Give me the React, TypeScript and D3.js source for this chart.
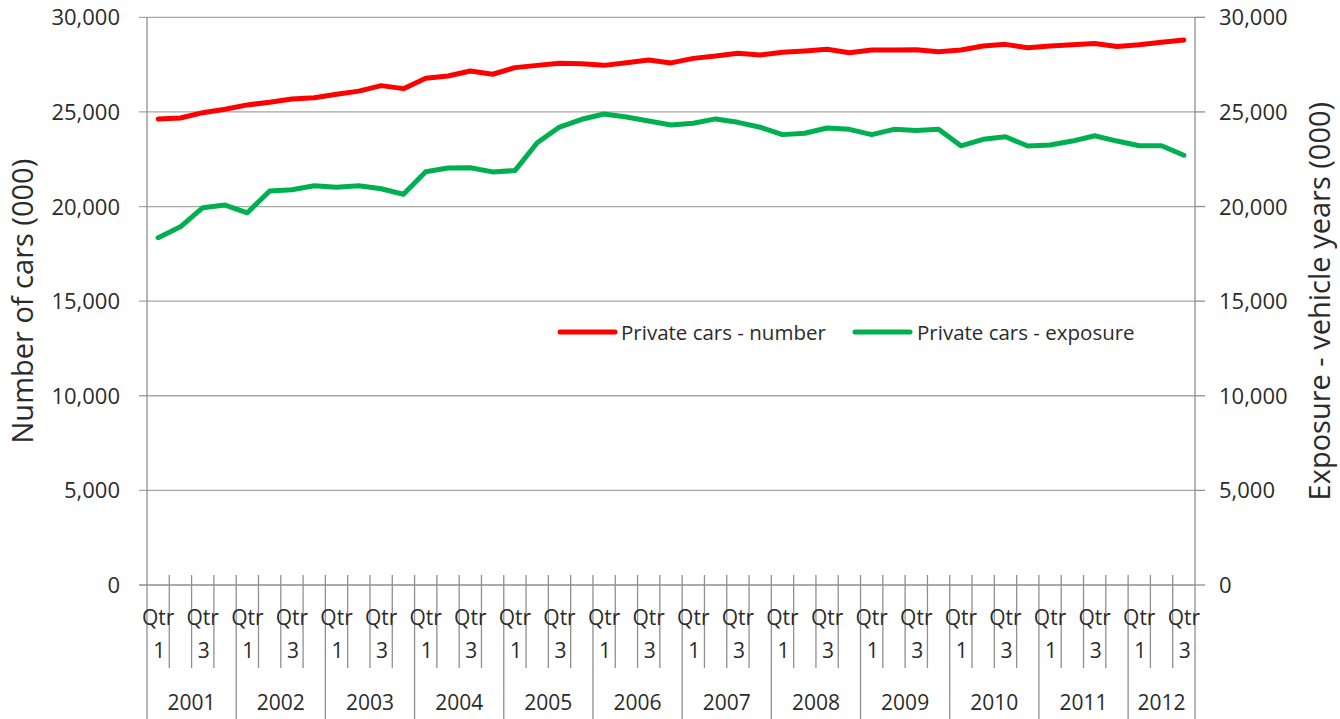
import React from 'react';
import * as d3 from 'd3';

const years = ['2001', '2002', '2003', '2004', '2005', '2006', '2007', '2008', '2009', '2010', '2011', '2012'];
const quartersPerYear = [4, 4, 4, 4, 4, 4, 4, 4, 4, 4, 4, 3];
const quarterLabels = ['1', '2', '3', '4'];
const yTicks = [0, 5000, 10000, 15000, 20000, 25000, 30000];

const carsNumber = [
  24630, 24680, 24960, 25140, 25370, 25510, 25680, 25750, 25930, 26100,
  26390, 26230, 26780, 26900, 27160, 26990, 27340, 27460, 27570, 27540,
  27460, 27600, 27740, 27590, 27830, 27950, 28100, 28010, 28150, 28220,
  28310, 28130, 28270, 28270, 28290, 28180, 28270, 28480, 28570, 28390,
  28480, 28550, 28620, 28460, 28550, 28680, 28800,
];
const carsExposure = [
  18350, 18930, 19940, 20080, 19670, 20820, 20890, 21100, 21020, 21100,
  20940, 20650, 21840, 22040, 22050, 21830, 21900, 23370, 24200, 24610,
  24890, 24730, 24520, 24310, 24400, 24630, 24450, 24190, 23800, 23870,
  24150, 24080, 23800, 24080, 24020, 24080, 23210, 23550, 23690, 23200,
  23250, 23460, 23740, 23460, 23210, 23210, 22710,
];
const seriesNames = ['Private cars - number', 'Private cars - exposure'];
const seriesColors = ['#ff0000', '#00b050'];

const W = 1340, H = 719;
const L = 147, R = 1195, T = 17.3, B = 585;
const FONT = '"Open Sans", "Noto Sans", sans-serif';
const TXT = '#2b2b2b';
const GRID = '#a6a6a6';
const AXIS = '#8f8f8f';

type Cat = { year: string; q: number; idx: number };
const cats: Cat[] = [];
years.forEach((yr, yi) => {
  for (let q = 0; q < quartersPerYear[yi]; q++) cats.push({ year: yr, q, idx: cats.length });
});

export default function App() {
  const x = d3.scaleBand<number>().domain(cats.map((c) => c.idx)).range([L, R]).padding(0);
  const y = d3.scaleLinear().domain([0, 30000]).range([B, T]);
  const y2 = d3.scaleLinear().domain([0, 30000]).range([B, T]);
  const bw = x.bandwidth();
  const fmt = d3.format(',');

  const line1 = d3.line<number>().x((_, i) => (x(i) as number) + bw / 2).y((d) => y(d));
  const line2 = d3.line<number>().x((_, i) => (x(i) as number) + bw / 2).y((d) => y2(d));

  const yearStarts: { year: string; start: number; end: number }[] = [];
  let k = 0;
  years.forEach((yr, yi) => {
    const s = x(k) as number;
    k += quartersPerYear[yi];
    const e = k < cats.length ? (x(k) as number) : R;
    yearStarts.push({ year: yr, start: s, end: e });
  });

  const legend = [
    { lx: 560, tx: 621 },
    { lx: 855, tx: 917 },
  ];

  return (
    <svg width={W} height={H} style={{ position: 'absolute', left: 0, top: 0, background: '#fff' }}>
      {yTicks.map((t) => (
        <line key={'g' + t} x1={L - 8} x2={R} y1={y(t)} y2={y(t)} stroke={t === 0 ? AXIS : GRID} strokeWidth={1.3} />
      ))}
      {yTicks.map((t) => (
        <line key={'rt' + t} x1={R} x2={R + 10} y1={y2(t)} y2={y2(t)} stroke={AXIS} strokeWidth={1.3} />
      ))}
      <line x1={L} x2={L} y1={T} y2={H} stroke={AXIS} strokeWidth={1.3} />
      <line x1={R} x2={R} y1={T} y2={H} stroke={AXIS} strokeWidth={1.3} />
      {cats.slice(1).map((c) => {
        const xx = x(c.idx) as number;
        const isYear = c.q === 0;
        return <line key={'qt' + c.idx} x1={xx} x2={xx} y1={B - 10} y2={isYear ? H : 668} stroke={AXIS} strokeWidth={1.3} />;
      })}
      {yTicks.map((t) => (
        <text key={'ll' + t} x={120} y={y(t) + 8} textAnchor="end" fontFamily={FONT} fontSize={22} fill={TXT}>
          {fmt(t)}
        </text>
      ))}
      {yTicks.map((t) => (
        <text key={'rl' + t} x={1219} y={y2(t) + 8} textAnchor="start" fontFamily={FONT} fontSize={22} fill={TXT}>
          {fmt(t)}
        </text>
      ))}
      {cats.filter((c) => c.q % 2 === 0).map((c) => {
        const cx = (x(c.idx) as number) + bw / 2;
        return (
          <g key={'ql' + c.idx}>
            <text x={cx} y={625} textAnchor="middle" fontFamily={FONT} fontSize={21} fill={TXT}>Qtr</text>
            <text x={cx + 1} y={658} textAnchor="middle" fontFamily={FONT} fontSize={21} fill={TXT}>{quarterLabels[c.q]}</text>
          </g>
        );
      })}
      {yearStarts.map((ys) => (
        <text key={'yl' + ys.year} x={(ys.start + ys.end) / 2} y={710} textAnchor="middle" fontFamily={FONT} fontSize={21} fill={TXT}>
          {ys.year}
        </text>
      ))}
      <text transform={`translate(33,${(T + B) / 2}) rotate(-90)`} textAnchor="middle" fontFamily={FONT} fontSize={29} fill={TXT}>
        Number of cars (000)
      </text>
      <text transform={`translate(1330,${(T + B) / 2}) rotate(-90)`} textAnchor="middle" fontFamily={FONT} fontSize={29} fill={TXT}>
        Exposure - vehicle years (000)
      </text>
      <path d={line1(carsNumber) || ''} fill="none" stroke={seriesColors[0]} strokeWidth={5} strokeLinejoin="round" strokeLinecap="round" />
      <path d={line2(carsExposure) || ''} fill="none" stroke={seriesColors[1]} strokeWidth={5} strokeLinejoin="round" strokeLinecap="round" />
      {legend.map((lg, i) => (
        <g key={'lg' + i}>
          <line x1={lg.lx} x2={lg.lx + 55} y1={332} y2={332} stroke={seriesColors[i]} strokeWidth={5} strokeLinecap="round" />
          <text x={lg.tx} y={339.5} fontFamily={FONT} fontSize={20.5} fill={TXT}>{seriesNames[i]}</text>
        </g>
      ))}
    </svg>
  );
}
